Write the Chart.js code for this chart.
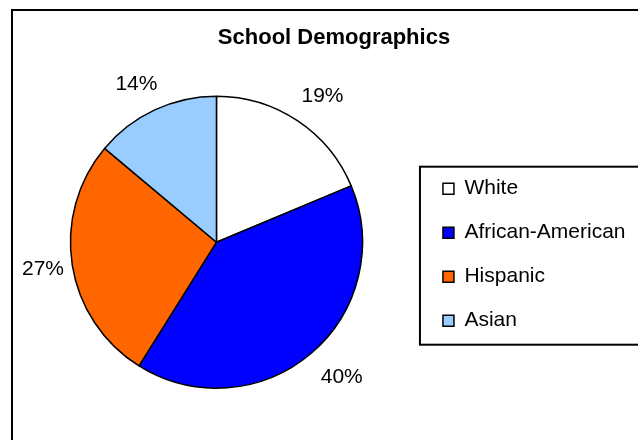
<!DOCTYPE html>
<html><head><meta charset="utf-8">
<script src="https://cdn.jsdelivr.net/npm/chart.js@4.4.1/dist/chart.umd.min.js"></script>
<style>
html,body{margin:0;padding:0;background:#fff;overflow:hidden;width:638px;height:440px;}
#frame{position:absolute;left:11px;top:9px;width:700px;height:500px;border:2px solid #000;}
#c{position:absolute;left:0;top:0;}
</style></head><body>
<div id="frame"><canvas id="c" width="642" height="429"></canvas></div>
<script>
const chartTitle = 'School Demographics';
const categories = ['White', 'African-American', 'Hispanic', 'Asian'];
const shares = [18.7, 40.2, 27.2, 13.9];
const sliceColors = ['#FFFFFF', '#0000FF', '#FF6600', '#99CCFF'];

const FONT = "'Liberation Sans', Arial, sans-serif";
Chart.defaults.font.family = FONT;
Chart.defaults.color = '#000';

// Outside-end percentage labels, placed from each arc's own geometry
const pctLabels = {
  id: 'pctLabels',
  afterDatasetsDraw(chart) {
    const ctx = chart.ctx;
    const meta = chart.getDatasetMeta(0);
    const data = chart.data.datasets[0].data;
    const total = data.reduce((a, b) => a + b, 0);
    const size = 21;
    ctx.save();
    ctx.font = size + 'px ' + FONT;
    ctx.fillStyle = '#000';
    ctx.textAlign = 'center';
    ctx.textBaseline = 'middle';
    meta.data.forEach((arc, i) => {
      const p = arc.getProps(['x', 'y', 'startAngle', 'endAngle', 'outerRadius'], true);
      const mid = (p.startAngle + p.endAngle) / 2;
      const txt = Math.round(data[i] / total * 100) + '%';
      const w = ctx.measureText(txt).width, h = size * 0.76;
      const dx = Math.cos(mid), dy = Math.sin(mid);
      const m = Math.max(Math.abs(dx), Math.abs(dy));
      const R = p.outerRadius + 20;
      let cx = p.x + dx * R + (dx / m) * w / 2;
      let cy = p.y + dy * R + (dy / m) * h / 2;
      cx = Math.max(cx, chart.chartArea.left + 9 + w / 2);
      ctx.fillText(txt, cx, cy);
    });
    ctx.restore();
  }
};

const legendFrame = {
  id: 'legendFrame',
  afterDraw(chart) {
    const hb = chart.legend.legendHitBoxes;
    if (!hb || !hb.length) return;
    const ctx = chart.ctx;
    const first = hb[0], last = hb[hb.length - 1];
    const left = first.left - 23;
    const top = first.top + first.height / 2 - 22;
    const bottom = last.top + last.height / 2 + 24;
    ctx.save();
    ctx.strokeStyle = '#000';
    ctx.lineWidth = 2;
    ctx.strokeRect(left, top, chart.width + 20 - left, bottom - top);
    ctx.restore();
  }
};

new Chart(document.getElementById('c'), {
  type: 'pie',
  data: {
    labels: categories,
    datasets: [{
      data: shares,
      backgroundColor: sliceColors,
      borderColor: '#000',
      borderWidth: 1.5,
      radius: 146
    }]
  },
  options: {
    responsive: false,
    animation: false,
    events: [],
    layout: { padding: { left: 0, right: 0, top: 0, bottom: 17 } },
    plugins: {
      title: {
        display: true,
        text: chartTitle,
        color: '#000',
        font: { family: FONT, size: 22, weight: 'bold' },
        padding: { top: 14, bottom: 10 }
      },
      subtitle: {
        display: true,
        position: 'right',
        text: '',
        font: { size: 10 },
        padding: { top: 7.5, bottom: 0 }
      },
      legend: {
        position: 'right',
        align: 'center',
        fullSize: false,
        maxWidth: 400,
        title: { display: true, text: '', font: { size: 10 }, padding: { top: 0, bottom: 13 } },
        labels: {
          color: '#000',
          boxWidth: 11,
          boxHeight: 11,
          padding: 23,
          font: { family: FONT, size: 21 }
        }
      },
      tooltip: { enabled: false }
    }
  },
  plugins: [pctLabels, legendFrame]
});
</script>
</body></html>
